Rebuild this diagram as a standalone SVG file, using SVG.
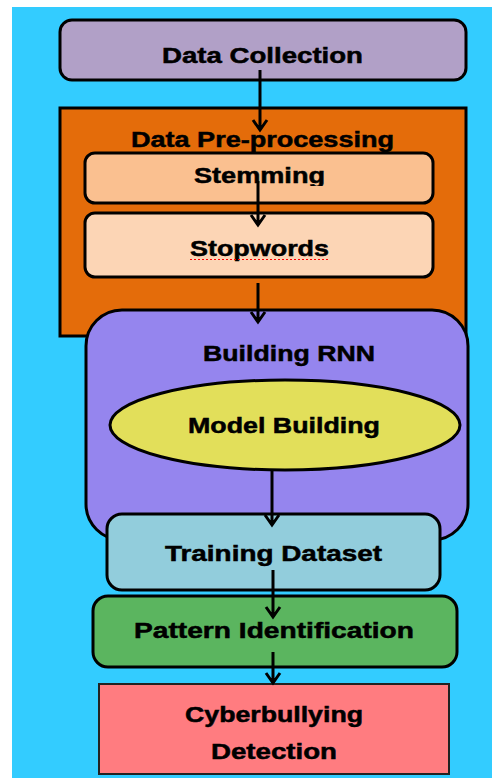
<svg xmlns="http://www.w3.org/2000/svg" width="492" height="778" viewBox="0 0 492 778">
  <style>
    .box { stroke: #000; stroke-width: 3; }
    .lbl { font-family: "Liberation Sans", Arial, sans-serif; font-weight: bold; font-size: 22px; fill: #000; stroke: #000; stroke-width: 0.5; }
    .conn { stroke: #000; stroke-width: 3; fill: none; }
  </style>
  <defs>
    <!-- open V arrowhead pointing along +x so orient="auto" aligns it with the line -->
    <marker id="arrow" markerUnits="userSpaceOnUse" markerWidth="20" markerHeight="20" refX="14" refY="10" orient="auto" viewBox="0 0 20 20">
      <path d="M4,3 L14,10 L4,17" fill="none" stroke="#000" stroke-width="3"/>
      <path d="M9,6.5 L14,10 L9,13.5 Z" fill="#000"/>
    </marker>
    <clipPath id="stemClip">
      <rect x="85" y="150" width="350" height="36"/>
    </clipPath>
  </defs>

  <!-- page background -->
  <rect x="0" y="0" width="492" height="778" fill="#fff"/>
  <rect x="12" y="7" width="480" height="771" fill="#33CCFF"/>

  <g id="data-collection">
    <rect class="box" x="60" y="20" width="406" height="60" rx="12" fill="#B1A0C7"/>
    <text class="lbl" x="162" y="63" textLength="201" lengthAdjust="spacingAndGlyphs">Data Collection</text>
  </g>

  <g id="data-preprocessing">
    <rect class="box" x="60" y="108" width="406" height="228" fill="#E46C0A"/>
    <text class="lbl" x="131" y="147" textLength="263" lengthAdjust="spacingAndGlyphs">Data Pre-processing</text>
  </g>

  <g id="stemming">
    <rect class="box" x="85" y="153" width="348" height="50" rx="10" fill="#FAC090"/>
    <text class="lbl" x="194" y="183" textLength="131" lengthAdjust="spacingAndGlyphs" clip-path="url(#stemClip)">Stemming</text>
  </g>

  <g id="stopwords">
    <rect class="box" x="85" y="213" width="348" height="64" rx="10" fill="#FCD5B5"/>
    <text class="lbl" x="190" y="256" textLength="139" lengthAdjust="spacingAndGlyphs">Stopwords</text>
    <line x1="190" y1="259.5" x2="329" y2="259.5" stroke="#FF0000" stroke-width="1" stroke-dasharray="2 2"/>
  </g>

  <g id="building-rnn">
    <rect class="box" x="86" y="310" width="382" height="230" rx="36" fill="#9585EE"/>
    <text class="lbl" x="203" y="361" textLength="172" lengthAdjust="spacingAndGlyphs">Building RNN</text>
  </g>

  <g id="model-building">
    <ellipse class="box" cx="285" cy="425" rx="175" ry="45" fill="#E2DF5A"/>
    <text class="lbl" x="188" y="433" textLength="192" lengthAdjust="spacingAndGlyphs">Model Building</text>
  </g>

  <g id="training-dataset">
    <rect class="box" x="107" y="514" width="333" height="76" rx="15" fill="#92CDDC"/>
    <text class="lbl" x="165" y="561" textLength="217" lengthAdjust="spacingAndGlyphs">Training Dataset</text>
  </g>

  <g id="pattern-identification">
    <rect class="box" x="93" y="596" width="364" height="71" rx="15" fill="#5BB55F"/>
    <text class="lbl" x="134" y="638" textLength="280" lengthAdjust="spacingAndGlyphs">Pattern Identification</text>
  </g>

  <g id="cyberbullying-detection">
    <rect x="99" y="684" width="350" height="90" fill="#FF7C80" stroke="#222" stroke-width="2"/>
    <text class="lbl" x="185" y="722" textLength="178" lengthAdjust="spacingAndGlyphs">Cyberbullying</text>
    <text class="lbl" x="211" y="759" textLength="126" lengthAdjust="spacingAndGlyphs">Detection</text>
  </g>

  <g id="connectors">
    <line class="conn" x1="260" y1="70" x2="260" y2="130" marker-end="url(#arrow)"/>
    <line class="conn" x1="258" y1="181" x2="258" y2="225" marker-end="url(#arrow)"/>
    <line class="conn" x1="258" y1="283" x2="258" y2="322" marker-end="url(#arrow)"/>
    <line class="conn" x1="272" y1="471" x2="272" y2="525" marker-end="url(#arrow)"/>
    <line class="conn" x1="273" y1="570" x2="273" y2="617" marker-end="url(#arrow)"/>
    <line class="conn" x1="273" y1="652" x2="273" y2="683" marker-end="url(#arrow)"/>
  </g>
</svg>
